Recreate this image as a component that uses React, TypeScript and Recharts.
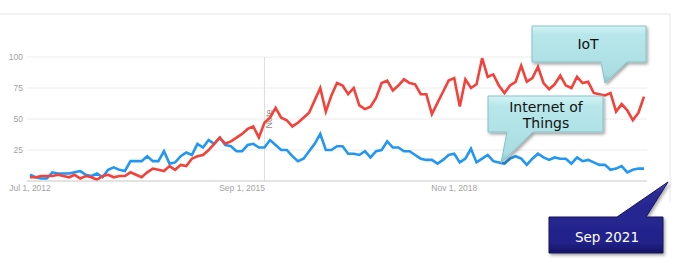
import { CartesianGrid, Line, LineChart, ReferenceLine, XAxis, YAxis } from "recharts";

// monthly interest, Jul 2012 .. Sep 2021
const internetOfThings = [
  5, 3, 2, 2, 7, 6, 6, 6, 7, 8,
  5, 4, 6, 3, 9, 11, 9, 8, 16, 16,
  16, 20, 16, 16, 24, 14, 15, 20, 23, 21,
  30, 27, 33, 30, 35, 29, 28, 24, 24, 29,
  30, 27, 27, 33, 29, 25, 25, 20, 16, 18,
  24, 30, 38, 25, 25, 28, 28, 22, 22, 21,
  24, 19, 24, 25, 32, 27, 27, 24, 24, 21,
  18, 17, 17, 14, 17, 21, 22, 15, 18, 26,
  15, 18, 21, 16, 15, 14, 18, 20, 18, 13,
  18, 22, 19, 17, 19, 18, 18, 14, 19, 16,
  17, 15, 13, 13, 9, 10, 12, 7, 9, 10, 10,
];

const iot = [
  3, 3, 4, 4, 4, 5, 4, 3, 5, 2,
  4, 3, 1, 4, 5, 3, 4, 4, 7, 5,
  3, 7, 10, 9, 8, 12, 9, 13, 12, 18,
  20, 21, 25, 30, 35, 30, 32, 35, 38, 42,
  44, 35, 47, 51, 59, 51, 49, 44, 47, 51,
  55, 65, 75, 56, 69, 79, 77, 70, 75, 61,
  58, 60, 67, 79, 81, 73, 77, 82, 79, 78,
  70, 70, 54, 63, 72, 81, 83, 60, 82, 75,
  78, 99, 84, 86, 77, 71, 77, 80, 93, 80,
  83, 92, 79, 74, 78, 85, 77, 75, 84, 79,
  80, 71, 70, 69, 71, 56, 62, 57, 49, 55, 68,
];

const tickIndex = [0, 38, 76];
const tickLabels = ["Jul 1, 2012", "Sep 1, 2015", "Nov 1, 2018"];
const yTicks = [0, 25, 50, 75, 100];
const noteIndex = 42;

const data = iot.map((v, i) => ({ i, iot: v, iotThings: internetOfThings[i] }));

const tickStyle = { fontSize: 8.5, fill: "#a3a3a3", fontFamily: "'Liberation Sans', Arial, sans-serif" };

// box with a pointed tail, tail on the bottom or top edge
function calloutPath(
  x1: number, y1: number, x2: number, y2: number,
  b1: number, b2: number, tx: number, ty: number, side: "top" | "bottom",
) {
  if (side === "bottom") {
    return `M${x1},${y1} H${x2} V${y2} H${b2} L${tx},${ty} L${b1},${y2} H${x1} Z`;
  }
  return `M${x1},${y1} H${b1} L${tx},${ty} L${b2},${y1} H${x2} V${y2} H${x1} Z`;
}

function Callouts() {
  const font = "'DejaVu Sans', Verdana, sans-serif";
  return (
    <svg
      width={680}
      height={264}
      style={{ position: "absolute", left: 0, top: 0, pointerEvents: "none" }}
    >
      <defs>
        <linearGradient id="teal" x1="0" y1="0" x2="0" y2="1">
          <stop offset="0" stopColor="#d3f3f5" />
          <stop offset="0.15" stopColor="#b8e7eb" />
          <stop offset="0.85" stopColor="#a9dde2" />
          <stop offset="1" stopColor="#84c3ca" />
        </linearGradient>
        <linearGradient id="navy" x1="0" y1="0" x2="0" y2="1">
          <stop offset="0" stopColor="#5353c4" />
          <stop offset="0.15" stopColor="#2a2a96" />
          <stop offset="0.85" stopColor="#22228a" />
          <stop offset="1" stopColor="#151566" />
        </linearGradient>
        <filter id="shadow" x="-20%" y="-20%" width="140%" height="150%">
          <feDropShadow dx="1.5" dy="2" stdDeviation="1.5" floodColor="#000" floodOpacity="0.35" />
        </filter>
      </defs>

      {/* card border */}
      <path d="M0,14 H670 V202" fill="none" stroke="#e6e6e6" strokeWidth={1} />

      <path
        d={calloutPath(532, 26, 646, 62, 601, 627, 605, 83, "bottom")}
        fill="url(#teal)"
        stroke="#86c2c8"
        strokeWidth={1}
        filter="url(#shadow)"
      />
      <text x={588} y={49} textAnchor="middle" fontFamily={font} fontSize={14} fill="#111">
        IoT
      </text>

      <path
        d={calloutPath(488, 96, 603, 132, 507, 533, 501, 163, "bottom")}
        fill="url(#teal)"
        stroke="#86c2c8"
        strokeWidth={1}
        filter="url(#shadow)"
      />
      <text x={546} y={112} textAnchor="middle" fontFamily={font} fontSize={14} fill="#111">
        Internet of
      </text>
      <text x={546} y={128} textAnchor="middle" fontFamily={font} fontSize={14} fill="#111">
        Things
      </text>

      <path
        d={calloutPath(549, 217, 663, 253, 617, 646, 668, 182, "top")}
        fill="url(#navy)"
        stroke="#14145a"
        strokeWidth={1}
        filter="url(#shadow)"
      />
      <text x={607} y={242} textAnchor="middle" fontFamily={font} fontSize={13.5} fill="#fff">
        Sep 2021
      </text>
    </svg>
  );
}

export default function App() {
  return (
    <div style={{ position: "absolute", left: 0, top: 0, width: 680, height: 264, background: "#fff" }}>
      <LineChart width={680} height={264} data={data} margin={{ top: 57, right: 33, bottom: 63, left: 0 }}>
        <CartesianGrid vertical={false} stroke="#ececec" />
        <XAxis
          dataKey="i"
          type="number"
          domain={[0, 110]}
          ticks={tickIndex}
          tickFormatter={(v) => tickLabels[tickIndex.indexOf(v)] ?? ""}
          padding={{ left: 3, right: 3 }}
          height={20}
          tickLine={false}
          tickSize={0}
          tickMargin={4}
          axisLine={{ stroke: "#d0d0d0" }}
          tick={tickStyle}
        />
        <YAxis
          domain={[0, 100]}
          ticks={yTicks}
          tickFormatter={(v) => (v === 0 ? "" : String(v))}
          width={27}
          axisLine={false}
          tickLine={false}
          tickSize={4}
          tickMargin={0}
          tick={tickStyle}
        />
        <ReferenceLine
          x={noteIndex}
          stroke="#dddddd"
          label={(props: any) => {
            const vb = props.viewBox || {};
            const cx = (vb.x ?? 0) + 5;
            const cy = (vb.y ?? 0) + 62;
            return (
              <text
                x={cx}
                y={cy}
                transform={`rotate(-90 ${cx} ${cy})`}
                textAnchor="middle"
                dominantBaseline="central"
                fontSize={9}
                fill="#8a8a8a"
                fontFamily="'Liberation Sans', Arial, sans-serif"
              >
                Note
              </text>
            );
          }}
        />
        <Line
          dataKey="iotThings"
          type="linear"
          stroke="#2196f3"
          strokeWidth={2.6}
          dot={false}
          isAnimationActive={false}
        />
        <Line
          dataKey="iot"
          type="linear"
          stroke="#f4413a"
          strokeWidth={2.6}
          dot={false}
          isAnimationActive={false}
        />
      </LineChart>
      <Callouts />
    </div>
  );
}
